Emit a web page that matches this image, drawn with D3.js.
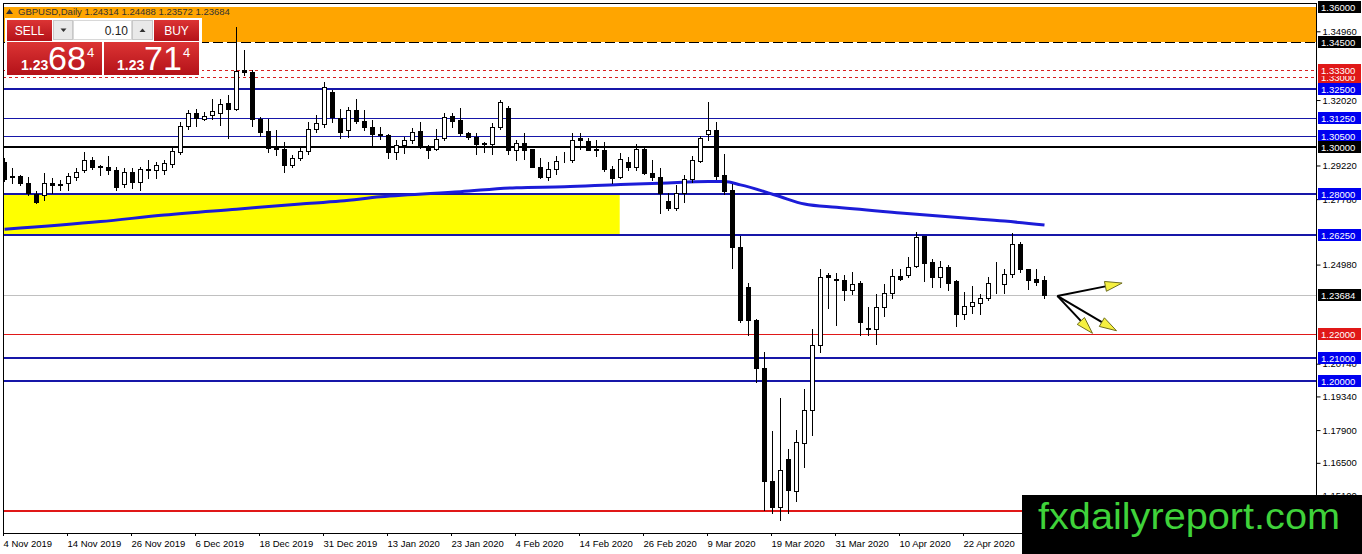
<!DOCTYPE html>
<html>
<head>
<meta charset="utf-8">
<script src="https://cdn.jsdelivr.net/npm/d3@7"></script>
<style>
  html, body { margin: 0; padding: 0; background: #fff; overflow: hidden; }
  svg { display: block; font-family: "Liberation Sans", Arial, sans-serif; }
</style>
</head>
<body>
<svg id="chart" width="1362" height="554"></svg>
<script>
// DATA - GBPUSD daily bars
var dates = [
  "2019.11.04","2019.11.05","2019.11.06","2019.11.07","2019.11.08","2019.11.11","2019.11.12","2019.11.13","2019.11.14","2019.11.15",
  "2019.11.18","2019.11.19","2019.11.20","2019.11.21","2019.11.22","2019.11.25","2019.11.26","2019.11.27","2019.11.28","2019.11.29",
  "2019.12.02","2019.12.03","2019.12.04","2019.12.05","2019.12.06","2019.12.09","2019.12.10","2019.12.11","2019.12.12","2019.12.13",
  "2019.12.16","2019.12.17","2019.12.18","2019.12.19","2019.12.20","2019.12.23","2019.12.24","2019.12.26","2019.12.27","2019.12.30",
  "2019.12.31","2020.01.02","2020.01.03","2020.01.06","2020.01.07","2020.01.08","2020.01.09","2020.01.10","2020.01.13","2020.01.14",
  "2020.01.15","2020.01.16","2020.01.17","2020.01.20","2020.01.21","2020.01.22","2020.01.23","2020.01.24","2020.01.27","2020.01.28",
  "2020.01.29","2020.01.30","2020.01.31","2020.02.03","2020.02.04","2020.02.05","2020.02.06","2020.02.07","2020.02.10","2020.02.11",
  "2020.02.12","2020.02.13","2020.02.14","2020.02.17","2020.02.18","2020.02.19","2020.02.20","2020.02.21","2020.02.24","2020.02.25",
  "2020.02.26","2020.02.27","2020.02.28","2020.03.02","2020.03.03","2020.03.04","2020.03.05","2020.03.06","2020.03.09","2020.03.10",
  "2020.03.11","2020.03.12","2020.03.13","2020.03.16","2020.03.17","2020.03.18","2020.03.19","2020.03.20","2020.03.23","2020.03.24",
  "2020.03.25","2020.03.26","2020.03.27","2020.03.30","2020.03.31","2020.04.01","2020.04.02","2020.04.03","2020.04.06","2020.04.07",
  "2020.04.08","2020.04.09","2020.04.10","2020.04.13","2020.04.14","2020.04.15","2020.04.16","2020.04.17","2020.04.20","2020.04.21",
  "2020.04.22","2020.04.23","2020.04.24","2020.04.27","2020.04.28","2020.04.29","2020.04.30","2020.05.01","2020.05.04","2020.05.05",
  "2020.05.06"
];

var open = [
  1.2937,1.2875,1.2876,1.2845,1.2802,1.2795,1.2845,1.2843,1.2845,1.2874,
  1.2902,1.2947,1.2918,1.2916,1.2902,1.2842,1.2893,1.2852,1.2908,1.2902,
  1.2902,1.2930,1.2980,1.3093,1.3145,1.3121,1.3136,1.3148,1.3188,1.3162,
  1.3330,1.3323,1.3120,1.3069,1.3000,1.2994,1.2926,1.2952,1.2983,1.3076,
  1.3100,1.3238,1.3124,1.3074,1.3159,1.3113,1.3085,1.3056,1.3052,1.2979,
  1.3009,1.3030,1.3069,1.3002,1.2994,1.3038,1.3134,1.3116,1.3062,1.3045,
  1.3018,1.3014,1.3085,1.3166,1.2987,1.3020,1.2991,1.2915,1.2874,1.2905,
  1.2946,1.2946,1.3041,1.3028,1.2991,1.2987,1.2909,1.2871,1.2938,1.2917,
  1.2994,1.2888,1.2874,1.2771,1.2739,1.2803,1.2863,1.2942,1.3056,1.3074,
  1.2881,1.2817,1.2572,1.2403,1.2261,1.2054,1.1573,1.1460,1.1665,1.1531,
  1.1736,1.1878,1.2154,1.2452,1.2435,1.2433,1.2390,1.2419,1.2225,1.2221,
  1.2318,1.2375,1.2450,1.2453,1.2493,1.2620,1.2510,1.2446,1.2489,1.2429,
  1.2287,1.2322,1.2332,1.2353,1.2420,1.2415,1.2456,1.2586,1.2478,1.2436,
  1.24314
];
var high = [
  1.2953,1.2910,1.2882,1.2871,1.2814,1.2888,1.2867,1.2860,1.2888,1.2910,
  1.2980,1.2958,1.2923,1.2961,1.2916,1.2910,1.2910,1.2916,1.2944,1.2937,
  1.2944,1.3004,1.3109,1.3159,1.3162,1.3150,1.3205,1.3205,1.3224,1.3513,
  1.3416,1.3330,1.3131,1.3122,1.3074,1.3023,1.2966,1.3004,1.3109,1.3138,
  1.3280,1.3245,1.3163,1.3173,1.3205,1.3159,1.3117,1.3088,1.3055,1.3031,
  1.3045,1.3081,1.3109,1.3009,1.3077,1.3148,1.3145,1.3166,1.3066,1.3059,
  1.3023,1.3105,1.3202,1.3176,1.3031,1.3062,1.2994,1.2952,1.2937,1.2962,
  1.2980,1.3062,1.3059,1.3040,1.3033,1.3023,1.2920,1.2975,1.2958,1.3016,
  1.2996,1.2944,1.2910,1.2803,1.2839,1.2881,1.2963,1.3048,1.3195,1.3109,
  1.2970,1.2843,1.2620,1.2421,1.2265,1.2125,1.1787,1.1926,1.1708,1.1790,
  1.1964,1.2221,1.2478,1.2463,1.2463,1.2455,1.2467,1.2427,1.2318,1.2372,
  1.2415,1.2478,1.2478,1.2531,1.2639,1.2622,1.2520,1.2515,1.2495,1.2432,
  1.2382,1.2406,1.2372,1.2446,1.2510,1.2478,1.2634,1.2596,1.2480,1.2478,
  1.24488
];
var low = [
  1.2857,1.2846,1.2837,1.2795,1.2761,1.2774,1.2805,1.2815,1.2815,1.2860,
  1.2893,1.2909,1.2881,1.2887,1.2817,1.2830,1.2824,1.2817,1.2867,1.2867,
  1.2887,1.2916,1.2973,1.3076,1.3091,1.3115,1.3119,1.3095,1.3041,1.3160,
  1.3309,1.3091,1.3048,1.2980,1.2966,1.2895,1.2914,1.2944,1.2973,1.3066,
  1.3088,1.3109,1.3041,1.3045,1.3102,1.3074,1.2999,1.3034,1.2952,1.2948,
  1.2977,1.3017,1.2995,1.2952,1.2988,1.3031,1.3088,1.3052,1.3034,1.2971,
  1.2980,1.2971,1.3077,1.2973,1.2944,1.2951,1.2914,1.2868,1.2860,1.2887,
  1.2937,1.2937,1.2994,1.2988,1.2962,1.2899,1.2848,1.2867,1.2902,1.2902,
  1.2885,1.2860,1.2717,1.2732,1.2732,1.2765,1.2851,1.2937,1.3030,1.2863,
  1.2800,1.2482,1.2254,1.2197,1.1997,1.1448,1.1434,1.1405,1.1437,1.1488,
  1.1630,1.1769,1.2125,1.2311,1.2240,1.2348,1.2374,1.2197,1.2197,1.2158,
  1.2278,1.2353,1.2432,1.2446,1.2489,1.2429,1.2403,1.2403,1.2390,1.2235,
  1.2264,1.2290,1.2286,1.2347,1.2378,1.2378,1.2446,1.2468,1.2392,1.2411,
  1.23572
];
var close = [
  1.2866,1.2871,1.2845,1.2805,1.2767,1.2845,1.2838,1.2837,1.2876,1.2892,
  1.2947,1.2916,1.2914,1.2902,1.2828,1.2892,1.2852,1.2909,1.2904,1.2923,
  1.2933,1.2984,1.3093,1.3145,1.3124,1.3134,1.3156,1.3184,1.3162,1.3327,
  1.3323,1.3120,1.3067,1.2997,1.2993,1.2926,1.2952,1.2983,1.3076,1.3102,
  1.3256,1.3128,1.3066,1.3159,1.3113,1.3085,1.3055,1.3053,1.2979,1.3009,
  1.3030,1.3066,1.2999,1.2990,1.3037,1.3128,1.3113,1.3062,1.3045,1.3016,
  1.3014,1.3085,1.3195,1.2987,1.3020,1.2987,1.2915,1.2871,1.2905,1.2941,
  1.2944,1.3031,1.3031,1.2990,1.2987,1.2909,1.2870,1.2948,1.2917,1.2994,
  1.2888,1.2874,1.2803,1.2739,1.2803,1.2863,1.2946,1.3041,1.3073,1.2877,
  1.2814,1.2572,1.2261,1.2261,1.2055,1.1573,1.1460,1.1619,1.1534,1.1740,
  1.1878,1.2154,1.2444,1.2443,1.2430,1.2390,1.2414,1.2254,1.2221,1.2318,
  1.2375,1.2450,1.2436,1.2489,1.2615,1.2506,1.2446,1.2489,1.2420,1.2287,
  1.2322,1.2336,1.2353,1.2418,1.2418,1.2456,1.2586,1.2478,1.2432,1.2425,
  1.23684
];

// moving average, sampled at bar indexes
var maIdx = [0, 12, 20, 29, 37, 42, 47, 57, 64, 70, 77, 82, 88, 90, 92, 95, 97, 100, 104, 112, 120, 125, 130];
var maVal = [1.2649, 1.2682, 1.2710, 1.2735, 1.2757, 1.2770, 1.2788, 1.2810, 1.2827, 1.2831, 1.2841, 1.2846,
             1.2853, 1.2853, 1.2839, 1.2810, 1.2788, 1.2757, 1.2743, 1.2719, 1.2697, 1.2684, 1.2667];

// drawn levels and zones
var orangeZone = [1.3450, 1.3600];
var yellowZone = [1.2625, 1.2800];
var yellowBars = [-0.2, 76.9];
var blueLevels = [1.3250, 1.2800, 1.2625, 1.2100, 1.2000];
var thinBlueLevels = [1.3125, 1.3050];
var blackLevels = [1.3000];
var redLevels = [1.2200, 1.1445];
var redDashLevels = [1.3330, 1.3300];
// axis ticks that are not fully covered by level tags
var priceTicks = [1.3496, 1.3202, 1.2922, 1.2778, 1.2498, 1.2074, 1.1934, 1.1790, 1.1650, 1.1510];
var askPrice = 1.23714;
var lotSize = "0.10";

// arrows: common origin and three tips (bar index, price)
var arrowOrigin = [131.6, 1.2364];
var arrowTipIdx = [139.7, 136.0, 139.0];
var arrowTipPrice = [1.2419, 1.2204, 1.2215];

// LAYOUT
var plotL = 3, plotR = 1317, plotT = 3, plotB = 533;
var blue = "#1616a8", red = "#e01818";

var svg = d3.select("#chart");
var x = d3.scaleLinear().domain([0, dates.length - 1]).range([4.5, 4.5 + 8 * (dates.length - 1)]);
var y = d3.scaleLinear().domain([1.36, 1.20]).range([7, 381]);
var py = function(p) { return Math.round(y(p)); };

svg.append("rect").attr("width", 1362).attr("height", 554).attr("fill", "#fff");

svg.append("clipPath").attr("id", "clip").append("rect")
  .attr("x", plotL).attr("y", plotT).attr("width", plotR - plotL).attr("height", plotB - plotT);
var plot = svg.append("g").attr("clip-path", "url(#clip)");

// zones
plot.append("rect")
  .attr("x", plotL).attr("width", plotR - plotL)
  .attr("y", py(orangeZone[1])).attr("height", py(orangeZone[0]) - py(orangeZone[1]))
  .attr("fill", "#ffa500");
plot.append("line")
  .attr("x1", plotL).attr("x2", plotR)
  .attr("y1", py(orangeZone[0]) + 0.5).attr("y2", py(orangeZone[0]) + 0.5)
  .attr("stroke", "#000").attr("stroke-dasharray", "10,4");
plot.append("rect")
  .attr("x", x(yellowBars[0])).attr("width", x(yellowBars[1]) - x(yellowBars[0]))
  .attr("y", py(yellowZone[1])).attr("height", py(yellowZone[0]) - py(yellowZone[1]))
  .attr("fill", "#ffff00");

// horizontal levels
function hLines(levels, color, width, dash) {
  plot.selectAll(null).data(levels).enter().append("line")
    .attr("x1", plotL).attr("x2", plotR)
    .attr("y1", function(d) { return py(d) + (width % 2 ? 0.5 : 0); })
    .attr("y2", function(d) { return py(d) + (width % 2 ? 0.5 : 0); })
    .attr("stroke", color).attr("stroke-width", width)
    .attr("stroke-dasharray", dash || null)
    .attr("shape-rendering", "crispEdges");
}
hLines(redDashLevels, "#d82020", 1, "3,3");
hLines(thinBlueLevels, blue, 1);
hLines(blueLevels, blue, 2);
hLines(blackLevels, "#000", 2);
hLines([redLevels[0]], red, 1);
hLines([redLevels[1]], red, 2);
hLines([close[close.length - 1]], "#c0c0c0", 1);

// moving average
var maPts = maIdx.map(function(d, i) { return [d, maVal[i]]; });
plot.append("path")
  .datum(maPts)
  .attr("d", d3.line().x(function(d) { return x(d[0]); }).y(function(d) { return y(d[1]); }).curve(d3.curveMonotoneX))
  .attr("fill", "none").attr("stroke", "#1c1cd8").attr("stroke-width", 3);

// candles
var bars = dates.map(function(d, i) {
  return { i: i, o: open[i], h: high[i], l: low[i], c: close[i] };
});
plot.selectAll("line.wick").data(bars).enter().append("line")
  .attr("class", "wick")
  .attr("x1", function(d) { return x(d.i); }).attr("x2", function(d) { return x(d.i); })
  .attr("y1", function(d) { return py(d.h); }).attr("y2", function(d) { return py(d.l) + 1; })
  .attr("stroke", "#000").attr("shape-rendering", "crispEdges");
plot.selectAll("rect.body").data(bars).enter().append("rect")
  .attr("class", "body")
  .attr("x", function(d) { return x(d.i) - 2; }).attr("width", 4)
  .attr("y", function(d) { return py(Math.max(d.o, d.c)) + 0.5; })
  .attr("height", function(d) { return Math.max(0, py(Math.min(d.o, d.c)) - py(Math.max(d.o, d.c))); })
  .attr("fill", function(d) { return d.c > d.o ? "#fff" : "#000"; })
  .attr("stroke", "#000").attr("shape-rendering", "crispEdges");

// arrows
var ox = x(arrowOrigin[0]), oy = y(arrowOrigin[1]);
arrowTipIdx.forEach(function(ti, k) {
  var tx = x(ti), ty = y(arrowTipPrice[k]);
  var dx = tx - ox, dy = ty - oy, len = Math.sqrt(dx * dx + dy * dy);
  var ux = dx / len, uy = dy / len, hl = 17, hw = 5;
  var bx = tx - ux * hl, by = ty - uy * hl;
  plot.append("line").attr("x1", ox).attr("y1", oy).attr("x2", bx).attr("y2", by)
    .attr("stroke", "#000").attr("stroke-width", 2);
  plot.append("path")
    .attr("d", "M" + tx + "," + ty + "L" + (bx - uy * hw) + "," + (by + ux * hw) + "L" + (bx + uy * hw) + "," + (by - ux * hw) + "Z")
    .attr("fill", "#f6f040").attr("stroke", "#6e6e1e").attr("stroke-width", 1);
});

// frame
svg.append("path")
  .attr("d", "M" + (plotL + 0.5) + "," + plotB + "V" + (plotT + 0.5) + "H" + (plotR - 0.5))
  .attr("fill", "none").attr("stroke", "#000").attr("shape-rendering", "crispEdges");

// price axis
var yAxis = d3.axisRight(y).tickValues(priceTicks).tickSize(4).tickPadding(2)
  .tickFormat(d3.format(".5f"));
var ya = svg.append("g").attr("transform", "translate(" + (plotR - 0.5) + ",0)").call(yAxis);
ya.select(".domain").attr("d", "M0," + plotT + "V" + plotB).attr("stroke", "#000");
ya.selectAll("text").attr("font-size", 9.5).attr("font-family", "Liberation Sans, Arial, sans-serif").attr("fill", "#000");

// level labels on the axis
var tags = [];
redDashLevels.slice().reverse().forEach(function(p) { tags.push([p, red]); });
tags.push([orangeZone[1], "#000"], [orangeZone[0], "#000"]);
blueLevels.concat(thinBlueLevels).forEach(function(p) { tags.push([p, "#0000f0"]); });
blackLevels.forEach(function(p) { tags.push([p, "#000"]); });
redLevels.forEach(function(p) { tags.push([p, red]); });
tags.push([close[close.length - 1], "#000"]);
var tagG = svg.selectAll("g.tag").data(tags).enter().append("g").attr("class", "tag")
  .attr("transform", function(d) { return "translate(" + (plotR + 1) + "," + py(d[0]) + ")"; });
tagG.append("rect").attr("x", 0).attr("y", -6).attr("width", 43).attr("height", 12)
  .attr("fill", function(d) { return d[1]; });
tagG.append("text").attr("x", 3).attr("y", 4).attr("font-size", 9.5).attr("fill", "#fff")
  .text(function(d) { return d3.format(".5f")(d[0]); });

// time axis
var parse = d3.timeParse("%Y.%m.%d"), fmt = d3.timeFormat("%-d %b %Y");
var xAxis = d3.axisBottom(x).tickValues(d3.range(0, dates.length, 8)).tickSize(3).tickPadding(4)
  .tickFormat(function(i) { return fmt(parse(dates[i])); });
var xa = svg.append("g").attr("transform", "translate(0," + plotB + ")").call(xAxis);
xa.select(".domain").attr("d", "M" + plotL + ",0.5H" + plotR).attr("stroke", "#000");
xa.selectAll(".tick line").attr("transform", "translate(-1.5,0)");
xa.selectAll("text").attr("text-anchor", "start").attr("dx", -1.5)
  .attr("font-size", 9.5).attr("font-family", "Liberation Sans, Arial, sans-serif").attr("fill", "#000");

// title line
var last = close.length - 1;
svg.append("path").attr("d", "M6,14L9.5,9L13,14Z").attr("fill", "#333");
svg.append("text").attr("x", 18).attr("y", 15).attr("font-size", 9.5).attr("fill", "#333")
  .text("GBPUSD,Daily " + [open[last], high[last], low[last], close[last]].map(d3.format(".5f")).join(" "));

// one-click trading panel
var defs = svg.append("defs");
var grad = defs.append("linearGradient").attr("id", "redg").attr("x1", 0).attr("x2", 0).attr("y1", 0).attr("y2", 1);
grad.append("stop").attr("offset", 0).attr("stop-color", "#dc3434");
grad.append("stop").attr("offset", 1).attr("stop-color", "#b41219");
var panel = svg.append("g");
panel.append("rect").attr("x", 5).attr("y", 18).attr("width", 197).attr("height", 59).attr("fill", "#fff");
panel.append("rect").attr("x", 7).attr("y", 20).attr("width", 45).attr("height", 21).attr("fill", "url(#redg)");
panel.append("rect").attr("x", 154).attr("y", 20).attr("width", 45).attr("height", 21).attr("fill", "url(#redg)");
panel.append("rect").attr("x", 7).attr("y", 42).attr("width", 95).attr("height", 33).attr("fill", "url(#redg)");
panel.append("rect").attr("x", 104).attr("y", 42).attr("width", 95).attr("height", 33).attr("fill", "url(#redg)");
panel.append("rect").attr("x", 53.5).attr("y", 20.5).attr("width", 19).attr("height", 19).attr("fill", "#e9e9e9").attr("stroke", "#c8c8c8");
panel.append("rect").attr("x", 73.5).attr("y", 20.5).attr("width", 58).attr("height", 19).attr("fill", "#fff").attr("stroke", "#d8d8d8");
panel.append("rect").attr("x", 132.5).attr("y", 20.5).attr("width", 20).attr("height", 19).attr("fill", "#e9e9e9").attr("stroke", "#c8c8c8");
panel.append("path").attr("d", "M60.5,28.5L66.5,28.5L63.5,32Z").attr("fill", "#333");
panel.append("path").attr("d", "M139.5,32L145.5,32L142.5,28.5Z").attr("fill", "#333");
panel.append("text").attr("x", 128).attr("y", 34.5).attr("text-anchor", "end").attr("font-size", 12).attr("fill", "#222").text(lotSize);
panel.append("text").attr("x", 29.5).attr("y", 35).attr("text-anchor", "middle").attr("font-size", 12).attr("fill", "#fff").text("SELL");
panel.append("text").attr("x", 176.5).attr("y", 35).attr("text-anchor", "middle").attr("font-size", 12).attr("fill", "#fff").text("BUY");

function quote(px, x0) {
  var s = d3.format(".5f")(px);
  panel.append("text").attr("x", x0).attr("y", 70).attr("font-size", 14).attr("font-weight", "bold").attr("fill", "#fff").text(s.slice(0, 4));
  panel.append("text").attr("x", x0 + 27).attr("y", 70).attr("font-size", 34).attr("fill", "#fff").text(s.slice(4, 6));
  panel.append("text").attr("x", x0 + 66).attr("y", 57).attr("font-size", 13).attr("fill", "#fff").text(s.slice(6));
}
quote(close[last], 21);
quote(askPrice, 117);

// watermark
svg.append("rect").attr("x", 1022).attr("y", 495).attr("width", 340).attr("height", 59).attr("fill", "#000");
svg.append("text").attr("x", 1038).attr("y", 529).attr("font-size", 37).attr("fill", "#3fd23a")
  .attr("textLength", 302).attr("lengthAdjust", "spacingAndGlyphs").text("fxdailyreport.com");
</script>
</body>
</html>
